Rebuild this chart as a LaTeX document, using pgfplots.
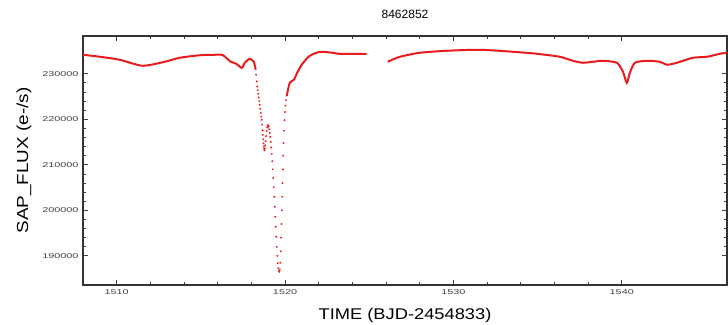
\documentclass[border=0pt]{standalone}
\usepackage{pgfplots}
\pgfplotsset{compat=1.18}
\usepackage{fontspec}
\setmainfont{Liberation Sans}
\newfontfamily\widefont[FakeStretch=1.55]{Liberation Sans}
\newfontfamily\labfont[FakeStretch=1.18]{Liberation Sans}
\definecolor{kred}{RGB}{232,28,28}
\begin{document}
\begin{tikzpicture}
\begin{axis}[
  at={(0,0)}, anchor=south west,
  scale only axis, width=644pt, height=249pt,
  xmin=1508, xmax=1546.25, ymin=183600, ymax=238300,
  xtick={1510,1520,1530,1540}, minor x tick num=4,
  ytick={190000,200000,210000,220000,230000}, minor y tick num=4,
  tick align=inside, major tick length=5pt, minor tick length=3pt,
  tick style={black!75, line width=0.8pt},
  axis line style={black!80, line width=1.2pt},
  /pgf/number format/fixed, /pgf/number format/precision=0,
  /pgf/number format/1000 sep={},
  /pgf/number format/assume math mode=true,
  ticklabel style={font=\widefont\fontsize{7}{7}\selectfont, text=black!75},
  yticklabel style={xshift=-1pt},
  xticklabel style={yshift=-1pt},
  scaled y ticks=false, scaled x ticks=false,
  title={8462852}, title style={font=\fontsize{12}{14}\selectfont, yshift=8pt},
  xlabel={TIME (BJD-2454833)}, ylabel={SAP\_FLUX (e-/s)},
  xlabel style={font=\labfont\fontsize{15.5}{17}\selectfont, yshift=-7pt},
  ylabel style={font=\labfont\fontsize{16}{18}\selectfont, yshift=4pt},
]
\addplot[kred, line width=2pt, smooth, tension=0.4] coordinates {
(1508.0,234180) (1509.0,233740) (1510.18,233077) (1511.54,231758) (1512.85,232637)
(1513.74,233516) (1514.93,234066) (1515.82,234176) (1516.30,234100) (1516.75,232700)
(1517.1,232200) (1517.43,231299) (1517.61,232418) (1517.90,233297) (1518.14,232637) (1518.26,230879)
};
\addplot[kred, only marks, mark=*, mark size=0.8pt, opacity=0.85] coordinates {
(1518.28,229800) (1518.32,228300) (1518.35,227200) (1518.38,226400) (1518.41,225600)
(1518.44,224800) (1518.47,224000) (1518.50,223200) (1518.53,222300) (1518.56,221400)
(1518.59,220600) (1518.62,219900) (1518.64,218800) (1518.66,217600) (1518.68,216600)
(1518.70,215600) (1518.72,214700) (1518.74,214000) (1518.76,213500) (1518.78,213200)
(1518.80,213600) (1518.82,214300) (1518.85,215200) (1518.88,216300) (1518.91,217400)
(1518.94,218200) (1518.97,218600) (1519.00,218700) (1519.03,218400) (1519.06,217800)
(1519.09,217000) (1519.12,216100) (1519.15,215000) (1519.18,213800) (1519.21,212400)
(1519.24,210800) (1519.27,209000) (1519.30,207100) (1519.33,205100) (1519.36,203000)
(1519.39,200800) (1519.42,198600) (1519.45,196400) (1519.48,194200) (1519.51,192000)
(1519.54,190000) (1519.57,188400) (1519.60,187300) (1519.63,186700) (1519.66,186500)
(1519.69,187000) (1519.72,188500) (1519.75,191000) (1519.77,194000) (1519.79,197000)
(1519.81,200000) (1519.83,203000) (1519.85,206000) (1519.87,209000) (1519.89,212000)
(1519.91,214800) (1519.94,217500) (1519.97,219800) (1520.00,221600) (1520.03,223000)
(1520.06,224200) (1520.10,225200)
};
\addplot[kred, line width=2pt, smooth, tension=0.4] coordinates {
(1520.10,225200) (1520.28,228022) (1520.52,228681) (1520.75,230440) (1520.99,231978)
(1521.23,233077) (1521.47,233956) (1522.06,234835) (1522.83,234615) (1523.25,234396) (1524.85,234396)
};
\addplot[kred, line width=2pt, smooth, tension=0.4] coordinates {
(1526.10,232637) (1526.82,233736) (1528.00,234615) (1529.61,235055) (1531.57,235275)
(1533.53,234835) (1534.96,234396) (1536.32,233736) (1537.09,232857) (1537.69,232418)
(1538.28,232637) (1538.88,232857) (1539.71,232418) (1540.07,230440) (1540.30,228022)
(1540.48,230220) (1540.78,232418) (1541.49,232857) (1542.26,232637) (1542.68,231978)
(1543.27,232418) (1544.22,233516) (1545.06,233736) (1545.83,234396) (1546.24,234615)
};
\end{axis}
\pgfresetboundingbox
\useasboundingbox (-83pt,-39pt) rectangle (645pt,285pt);
\end{tikzpicture}
\end{document}
